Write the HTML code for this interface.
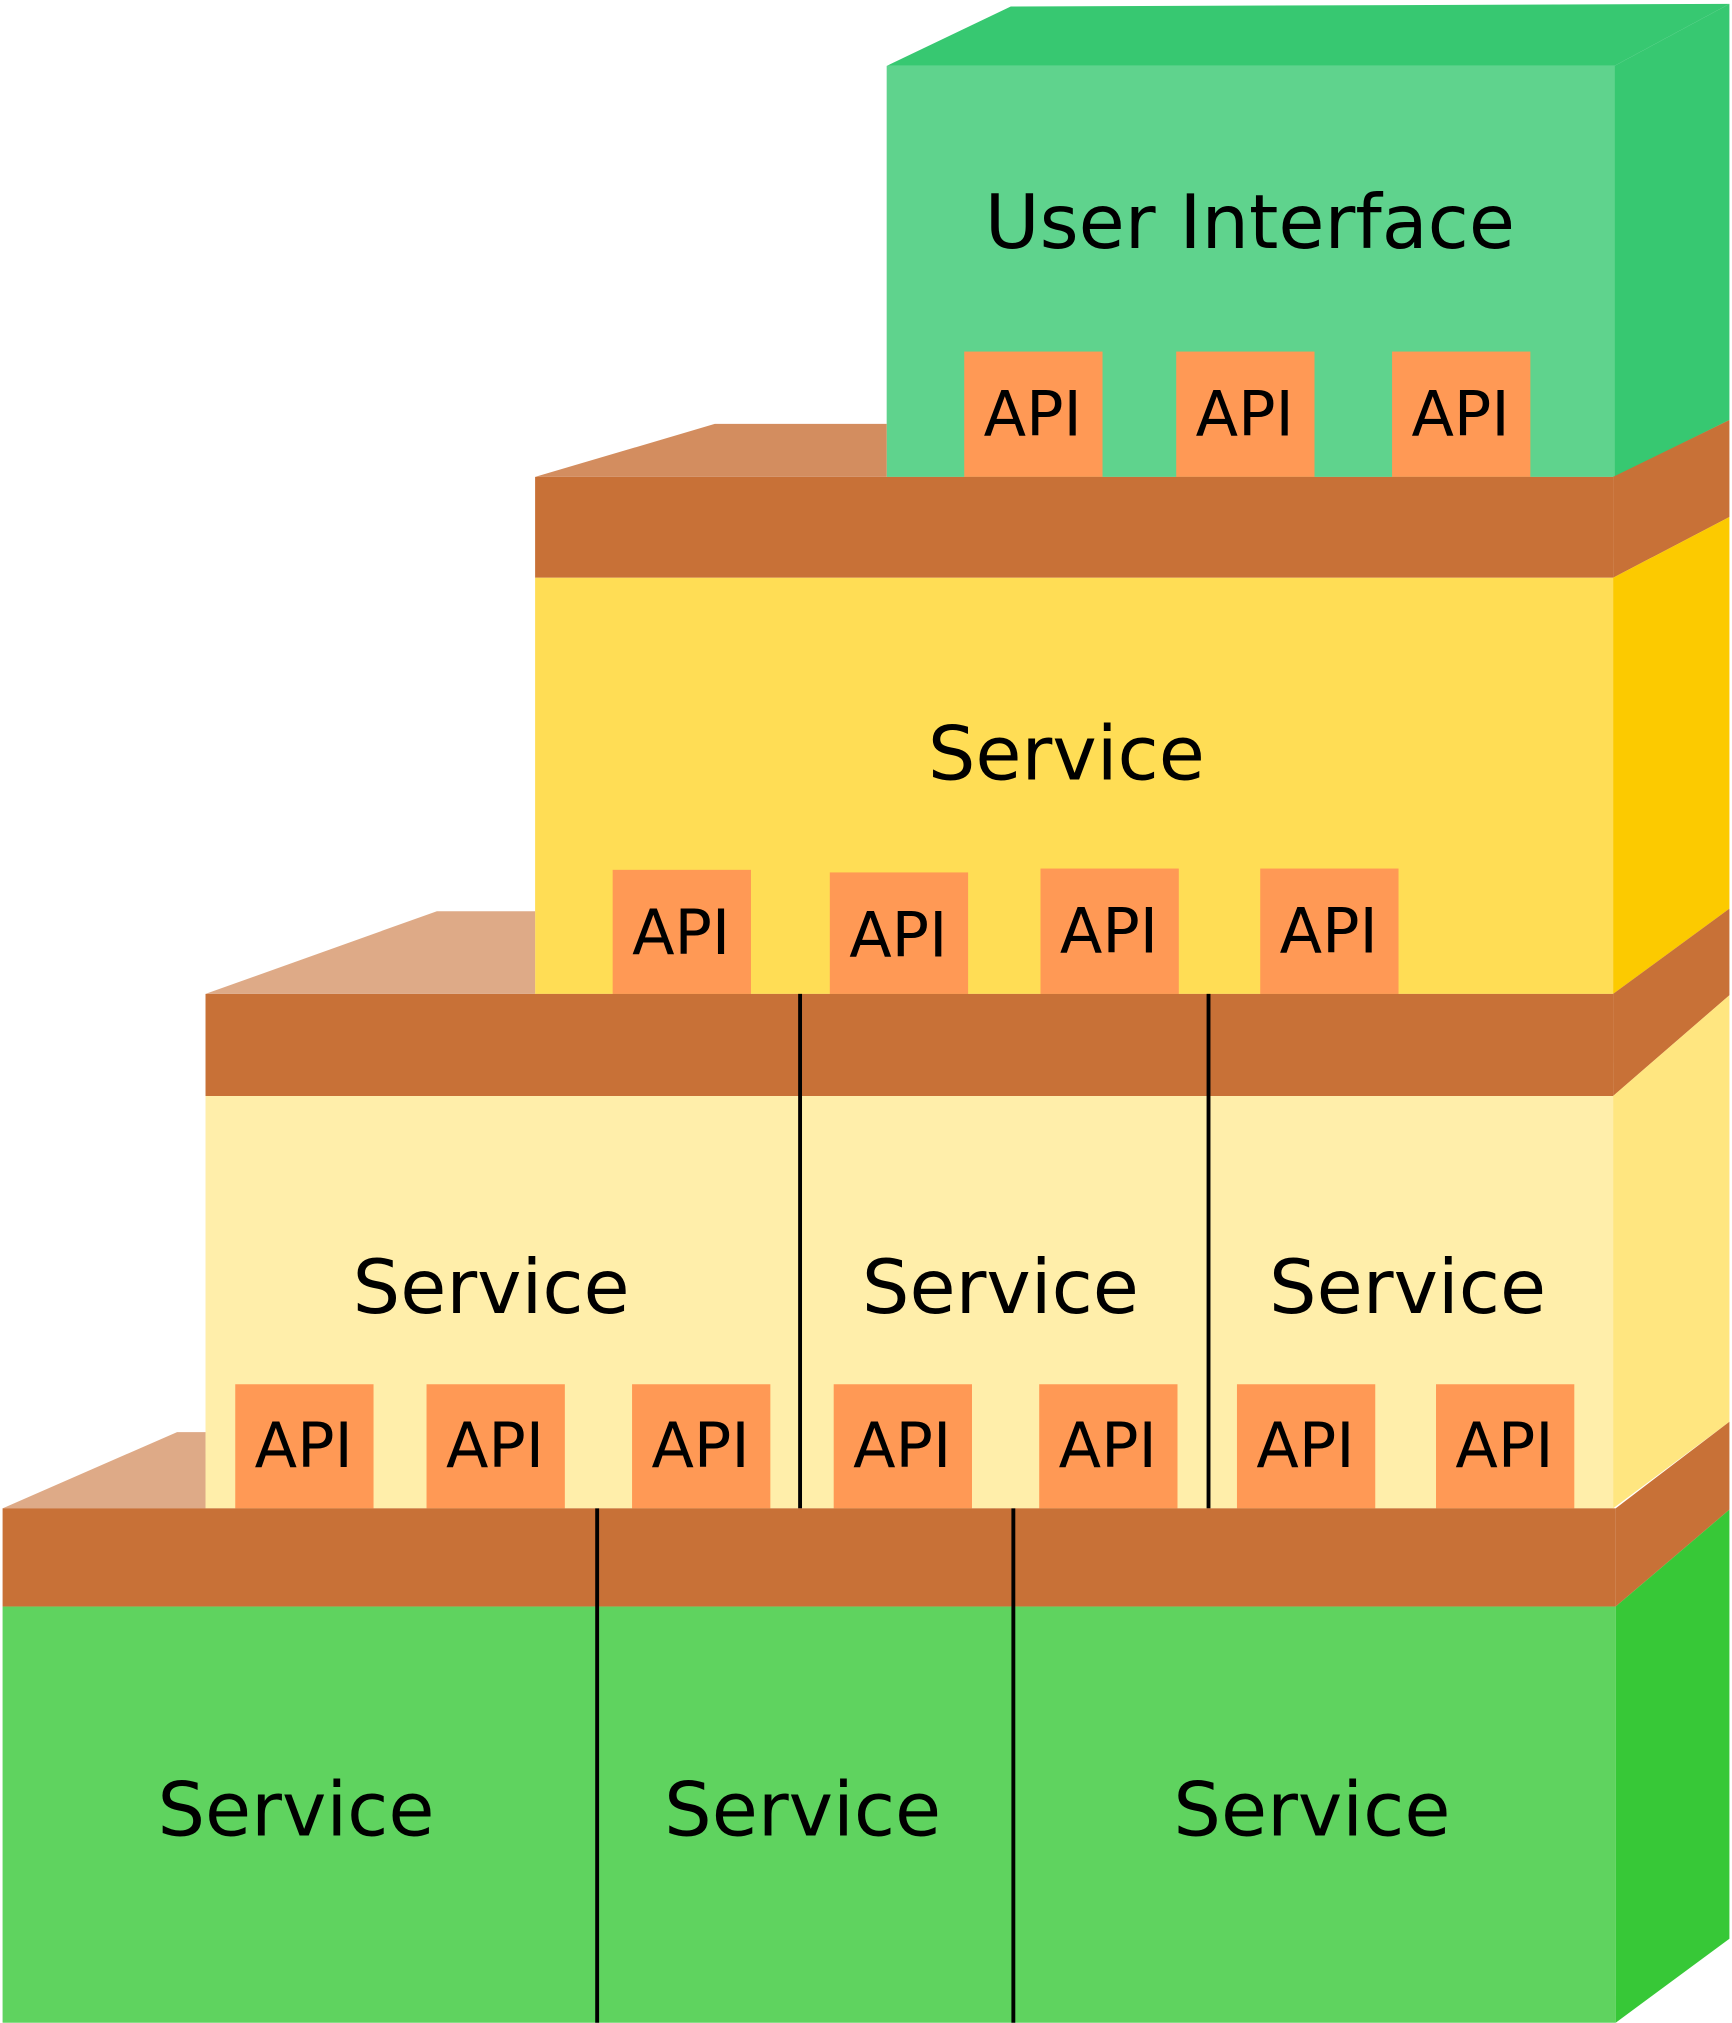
<!DOCTYPE html>
<html><head><meta charset="utf-8"><style>html,body{margin:0;padding:0;background:#fff}svg{display:block}</style></head>
<body>
<svg width="1732" height="2023" viewBox="0 0 1340 1565.2" preserveAspectRatio="none" xmlns="http://www.w3.org/2000/svg" font-family="'DejaVu Sans','Liberation Sans',sans-serif">
<!-- top green box -->
<polygon points="686,51 782,5 1338,3 1249,51" fill="#37c871"/>
<polygon points="1249,51 1338,3 1338,325 1249,369" fill="#37c871"/>
<rect x="686" y="51" width="563" height="318" fill="#5fd38d"/>
<text x="967" y="192" font-size="58" text-anchor="middle">User Interface</text>
<g fill="#ff9955"><rect x="746" y="272" width="107" height="97"/><rect x="910" y="272" width="107" height="97"/><rect x="1077" y="272" width="107" height="97"/></g>
<g font-size="48" text-anchor="middle"><text x="799" y="337">API</text><text x="963" y="337">API</text><text x="1130" y="337">API</text></g>
<!-- bar 1 -->
<polygon points="414,369 553,328 686,328 686,369" fill="#d38d5f"/>
<polygon points="1248,369 1338,325 1338,400 1248,447" fill="#c87137"/>
<rect x="414" y="369" width="834" height="78" fill="#c87137"/>
<!-- yellow -->
<polygon points="1248,447 1338,400 1338,703 1248,769" fill="#fcca00"/>
<rect x="414" y="447" width="834" height="322" fill="#ffdd55"/>
<text x="825" y="603" font-size="58" text-anchor="middle">Service</text>
<g fill="#ff9955"><rect x="474" y="673" width="107" height="96"/><rect x="642" y="675" width="107" height="94"/><rect x="805" y="672" width="107" height="97"/><rect x="975" y="672" width="107" height="97"/></g>
<g font-size="48" text-anchor="middle"><text x="527" y="738">API</text><text x="695" y="740">API</text><text x="858" y="737">API</text><text x="1028" y="737">API</text></g>
<!-- bar 2 -->
<polygon points="159,769 338,705 414,705 414,769" fill="#deaa87"/>
<polygon points="1248,769 1338,703 1338,770 1248,848" fill="#c87137"/>
<rect x="159" y="769" width="1089" height="79" fill="#c87137"/>
<!-- light yellow -->
<polygon points="1248,848 1338,770 1338,1100 1248,1167" fill="#ffe680"/>
<rect x="159" y="848" width="1089" height="319" fill="#ffeeaa"/>
<g font-size="58" text-anchor="middle"><text x="380" y="1016">Service</text><text x="774" y="1016">Service</text><text x="1089" y="1016">Service</text></g>
<g fill="#ff9955"><rect x="182" y="1071" width="107" height="96"/><rect x="330" y="1071" width="107" height="96"/><rect x="489" y="1071" width="107" height="96"/><rect x="645" y="1071" width="107" height="96"/><rect x="804" y="1071" width="107" height="96"/><rect x="957" y="1071" width="107" height="96"/><rect x="1111" y="1071" width="107" height="96"/></g>
<g font-size="48" text-anchor="middle"><text x="235" y="1135">API</text><text x="383" y="1135">API</text><text x="542" y="1135">API</text><text x="698" y="1135">API</text><text x="857" y="1135">API</text><text x="1010" y="1135">API</text><text x="1164" y="1135">API</text></g>
<g stroke="#000" stroke-width="3"><line x1="619" y1="769" x2="619" y2="1167"/><line x1="935" y1="769" x2="935" y2="1167"/></g>
<!-- bar 3 -->
<polygon points="2,1167 137,1108 159,1108 159,1167" fill="#deaa87"/>
<polygon points="1250,1167 1338,1100 1338,1168 1250,1243" fill="#c87137"/>
<rect x="2" y="1167" width="1248" height="76" fill="#c87137"/>
<!-- green bottom -->
<polygon points="1250,1243 1338,1168 1338,1500 1250,1565" fill="#37c837"/>
<rect x="2" y="1243" width="1248" height="322" fill="#5fd35f"/>
<g font-size="58" text-anchor="middle"><text x="229" y="1420">Service</text><text x="621" y="1420">Service</text><text x="1015" y="1420">Service</text></g>
<g stroke="#000" stroke-width="3"><line x1="462" y1="1167" x2="462" y2="1565"/><line x1="784" y1="1167" x2="784" y2="1565"/></g>
</svg>
</body></html>
